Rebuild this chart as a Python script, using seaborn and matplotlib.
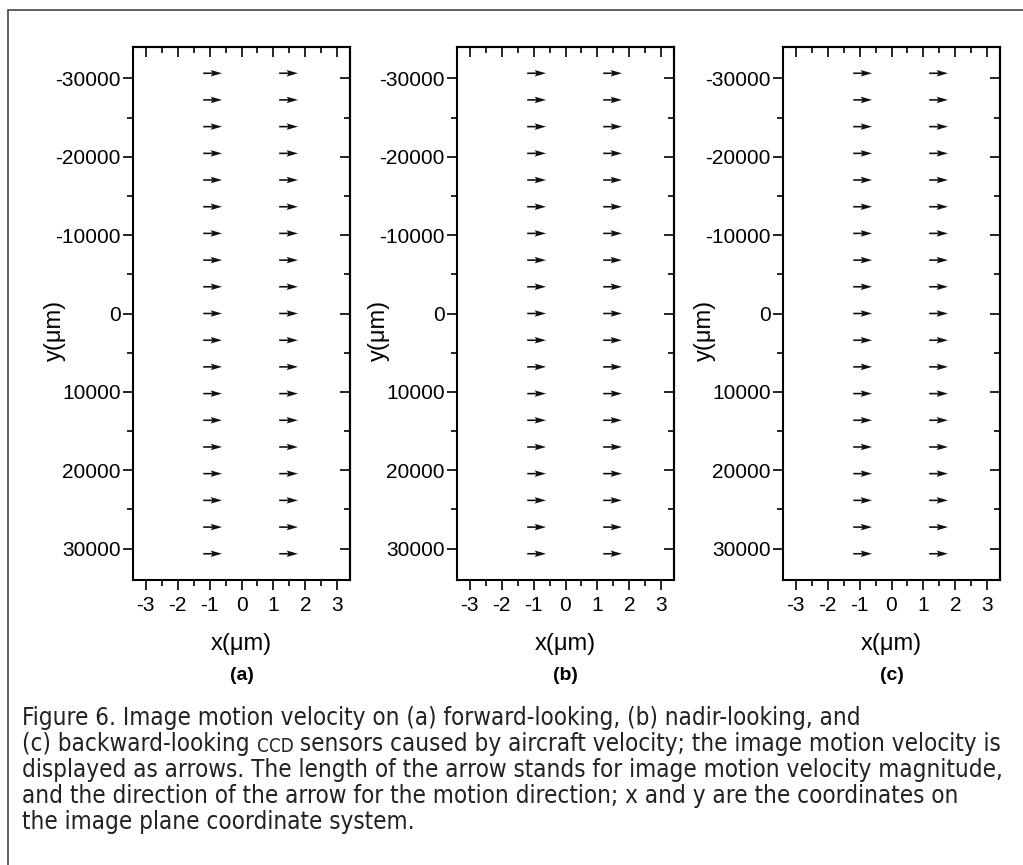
import numpy as np
import pandas as pd
import seaborn as sns
import matplotlib
matplotlib.use("Agg")
import matplotlib.pyplot as plt
from matplotlib.ticker import MultipleLocator
from matplotlib import font_manager as fm
from matplotlib.patches import Rectangle

# ---- data -------------------------------------------------------------
panels = ["(a)", "(b)", "(c)"]
# sample positions on the image plane
arrow_x = [-1.20, 1.18]
arrow_y = [-30650, -27250, -23840, -20430, -17030, -13620, -10220, -6810,
           -3410, 0, 3410, 6810, 10220, 13620, 17030, 20430, 23840, 27250,
           30650]
# image motion velocity components for each sensor
vel_u = [0.59, 0.59, 0.59]
vel_v = [0.0, 0.0, 0.0]

xticks = [-3, -2, -1, 0, 1, 2, 3]
xtick_labels = ["-3", "-2", "-1", "0", "1", "2", "3"]
yticks = [-30000, -20000, -10000, 0, 10000, 20000, 30000]
ytick_labels = ["-30000", "-20000", "-10000", "0", "10000", "20000", "30000"]

caption_lines = [
    "Figure 6. Image motion velocity on (a) forward-looking, (b) nadir-looking, and",
    ("(c) backward-looking ", "CCD", " sensors caused by aircraft velocity; the image motion velocity is"),
    "displayed as arrows. The length of the arrow stands for image motion velocity magnitude,",
    "and the direction of the arrow for the motion direction; x and y are the coordinates on",
    "the image plane coordinate system.",
]

rows = []
for p, u, v in zip(panels, vel_u, vel_v):
    for xv in arrow_x:
        for yv in arrow_y:
            rows.append({"panel": p, "x": xv, "y": yv, "u": u, "v": v})
df = pd.DataFrame(rows)

# ---- style ------------------------------------------------------------
sns.set_theme(style="ticks")
plt.rcParams["font.family"] = ["Liberation Sans", "DejaVu Sans"]
plt.rcParams.update({
    "axes.unicode_minus": False,
    "text.color": "black",
    "axes.labelcolor": "black",
    "axes.edgecolor": "black",
    "xtick.color": "black",
    "ytick.color": "black",
    "axes.linewidth": 1.5,
})

W, H = 1023, 865
DPI = 100


def draw_arrows(data, **kws):
    ax = plt.gca()
    ax.quiver(data["x"], data["y"], data["u"], data["v"],
              angles="xy", scale_units="xy", scale=1, pivot="tail",
              width=0.0075, headwidth=4, headlength=7, headaxislength=6,
              color="#111111")


g = sns.FacetGrid(df, col="panel", col_order=panels, sharex=False,
                  sharey=False, despine=False, height=6, aspect=0.4)
g.map_dataframe(draw_arrows)
g.set_titles("")
fig = g.figure
fig.set_size_inches(W / DPI, H / DPI)
fig.set_dpi(DPI)
fig.patch.set_facecolor("white")

lefts = [133, 457, 783]
ax_w, ax_top, ax_bot = 217, 47, 580
ax_h = ax_bot - ax_top

for ax, left, name in zip(g.axes.flat, lefts, panels):
    ax.set_position([left / W, 1 - ax_bot / H, ax_w / W, ax_h / H])
    ax.set_facecolor("white")
    ax.set_xlim(-3.4, 3.4)
    ax.set_ylim(34000, -34000)
    ax.set_xticks(xticks, xtick_labels, fontsize=15)
    ax.set_yticks(yticks, ytick_labels, fontsize=15)
    ax.xaxis.set_minor_locator(MultipleLocator(0.5))
    ax.yaxis.set_minor_locator(MultipleLocator(5000))
    ax.tick_params(which="major", direction="out", length=7.5, width=1.2)
    ax.tick_params(which="minor", direction="out", length=4, width=1.2)
    ax.tick_params(axis="x", which="major", pad=4)
    ax.tick_params(axis="y", which="major", pad=1.5)
    for sp in ax.spines.values():
        sp.set_linewidth(1.5)
        sp.set_color("black")

    # mirrored axes with inward ticks
    top = ax.secondary_xaxis("top")
    top.set_xticks(xticks)
    top.xaxis.set_minor_locator(MultipleLocator(0.5))
    top.tick_params(which="major", direction="in", length=7.5, width=1.2, labeltop=False)
    top.tick_params(which="minor", direction="in", length=4, width=1.2)
    right = ax.secondary_yaxis("right")
    right.set_yticks(yticks)
    right.yaxis.set_minor_locator(MultipleLocator(5000))
    right.tick_params(which="major", direction="in", length=7.5, width=1.2, labelright=False)
    right.tick_params(which="minor", direction="in", length=4, width=1.2)

    ax.set_xlabel("x(μm)", fontsize=17, va="center")
    ax.xaxis.set_label_coords(0.5, -(644 - ax_bot) / ax_h)
    ax.set_ylabel("y(μm)", fontsize=17, va="center")
    ax.yaxis.set_label_coords(-78 / ax_w, 1 - (330 - ax_top) / ax_h)
    ax.text(0.5, -(675 - ax_bot) / ax_h, name, transform=ax.transAxes,
            ha="center", va="center", fontsize=14, fontweight="bold")

# frame around the figure
fig.patches.append(Rectangle((8 / W, -0.02), 1.05, 1 - 10 / H + 0.02,
                             transform=fig.transFigure, fill=False,
                             edgecolor="#444444", linewidth=1.2))

# ---- caption ----------------------------------------------------------
names = {f.name for f in fm.fontManager.ttflist}
if "Liberation Sans Narrow" in names:
    cap_kw = {"family": "Liberation Sans Narrow"}
elif any(f.name == "DejaVu Sans" and "condensed" in str(f.stretch)
         for f in fm.fontManager.ttflist):
    cap_kw = {"family": "DejaVu Sans", "stretch": "condensed"}
else:
    cap_kw = {"family": "Roboto"}

renderer = fig.canvas.get_renderer()
probe = fig.text(0, 0, caption_lines[2], fontsize=15, **cap_kw)
wpx = probe.get_window_extent(renderer).width
probe.remove()
cap_size = 15 * (983 / wpx)
cap_color = "#222222"

cap_x = 22 / W
line_y = [718, 744, 770, 796, 822]
for line, yp in zip(caption_lines, line_y):
    ypos = 1 - yp / H
    if isinstance(line, tuple):
        prev = fig.text(cap_x, ypos, line[0], fontsize=cap_size, va="center",
                        color=cap_color, **cap_kw)
        for piece in line[1:]:
            size = cap_size * (0.78 if piece == "CCD" else 1.0)
            prev = g.axes.flat[0].annotate(piece, xy=(1, 0), xycoords=prev,
                                           va="bottom", ha="left",
                                           fontsize=size, color=cap_color,
                                           annotation_clip=False, **cap_kw)
    else:
        fig.text(cap_x, ypos, line, fontsize=cap_size, va="center",
                 color=cap_color, **cap_kw)

fig.savefig("out.png", dpi=DPI, facecolor="white")
